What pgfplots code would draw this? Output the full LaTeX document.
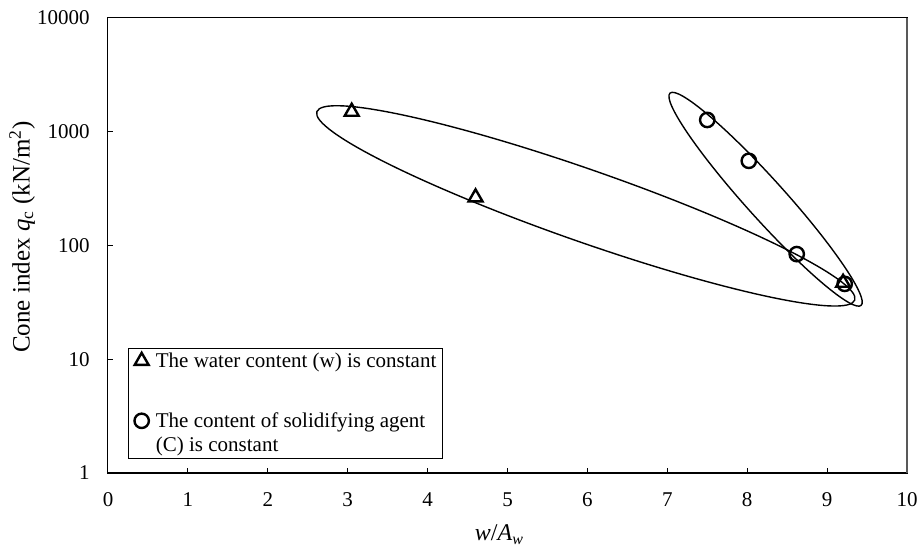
\documentclass[border=0pt]{standalone}
\usepackage{fontspec}
\setmainfont{Liberation Serif}
\usepackage{pgfplots}
\pgfplotsset{compat=1.18}
\usetikzlibrary{calc}
\pgfplotsset{
  trilegend/.style={legend image code/.code={\draw[##1] plot coordinates {(0pt,3.4pt)}; \path (0pt,-19pt);}},
  circlegend/.style={legend image code/.code={\draw[##1] plot coordinates {(0pt,3.4pt)};}},
}
\begin{document}
\fontsize{10.5}{12.5}\selectfont
\begin{tikzpicture}
\begin{axis}[
  scale only axis, width=399.5pt, height=227.5pt,
  xmin=0, xmax=10, ymin=1, ymax=10000, ymode=log,
  xtick={0,1,...,10},
  ytick={1,10,100,1000,10000}, yticklabels={1,10,100,1000,10000},
  yminorticks=false,
  tick align=inside, xtick pos=left, ytick pos=left,
  major tick length=2.5pt,
  tick style={black, line width=0.5pt},
  axis line style={line width=0.5pt},
  /pgf/number format/assume math mode=true,
  ticklabel style={font=\fontsize{10.5}{12.5}\selectfont},
  yticklabel style={xshift=-5.5pt},
  xticklabel style={yshift=-6pt},
  xlabel={\textit{w}/\textit{A}\textsubscript{\textit{w}}},
  ylabel={Cone index \textit{q}\textsubscript{c} (kN/m\textsuperscript{2})},
  xlabel style={at={(axis description cs:0.49,-0.136)}, anchor=center, font=\fontsize{12}{14}\selectfont},
  ylabel style={at={(axis description cs:-0.1076,0.519)}, anchor=center, font=\fontsize{12.5}{14.5}\selectfont},
  clip=false,
  legend style={at={(axis description cs:0.025,0.0308)}, anchor=south west,
    draw=black, line width=0.5pt, inner xsep=3pt, inner ysep=2pt,
    row sep=3pt, column sep=3.5pt,
    nodes={inner sep=0pt, font=\fontsize{10.5}{12.5}\selectfont},
    cells={anchor=base west}},
]
\addplot[only marks, mark=triangle, mark size=4pt, line width=1.2pt, black, trilegend]
  coordinates {(3.05,1500) (4.6,265) (9.2,47)};
\addlegendentry{The water content (w) is constant}
\addplot[only marks, mark=o, mark size=3.6pt, line width=1.2pt, black, circlegend]
  coordinates {(7.5,1270) (8.02,555) (8.62,84) (9.22,46)};
\addlegendentry{The content of solidifying agent}
\addlegendimage{empty legend}
\addlegendentry{(C) is constant}
\draw[line width=0.7pt, rotate around={-19.3:(axis cs:5.98,223)}]
  (axis cs:5.98,223) ellipse [x radius=142.5pt, y radius=18pt];
\draw[line width=0.7pt, rotate around={-48:(axis cs:8.23,255)}]
  (axis cs:8.23,255) ellipse [x radius=71.4pt, y radius=9.75pt];
\draw[line width=1pt] (rel axis cs:0,0) -- (rel axis cs:1,0);
\draw[line width=1pt, black!65] (rel axis cs:1,0) -- (rel axis cs:1,1);
\coordinate (bl) at (rel axis cs:0,0);
\coordinate (tr) at (rel axis cs:1,1);
\end{axis}
\pgfresetboundingbox
\path ($(bl)+(-54pt,-39.5pt)$) rectangle ($(tr)+(6.5pt,9pt)$);
\end{tikzpicture}
\end{document}
